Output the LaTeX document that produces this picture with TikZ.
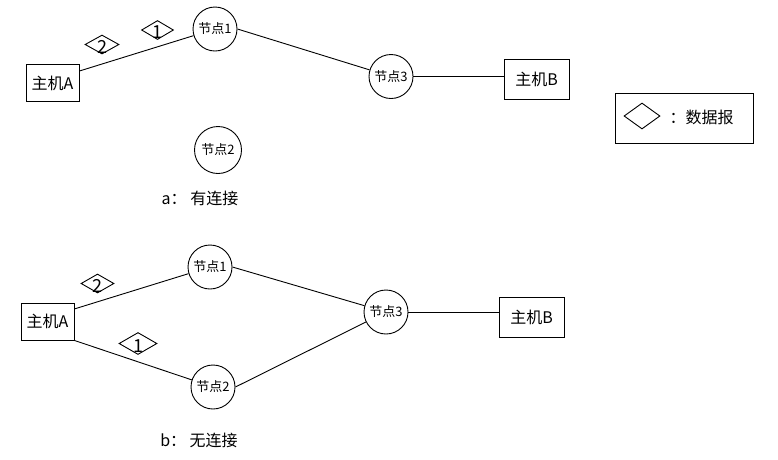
\documentclass[tikz,border=0pt]{standalone}
\usepackage{fontspec}
\setmainfont{Noto Sans CJK SC}
\usetikzlibrary{shapes.geometric,positioning,calc}

\begin{document}
\begin{tikzpicture}[x=1pt, y=-1pt, line width=0.9pt,
  host/.style={rectangle, draw, minimum width=53pt, minimum height=37pt, inner sep=0pt, font=\fontsize{16}{18}\selectfont},
  relay/.style={circle, draw, minimum size=44pt, inner sep=0pt, font=\fontsize{13}{15}\selectfont},
  pkt/.style={diamond, draw, minimum width=34pt, minimum height=19pt, inner sep=0pt},
  num/.style={font=\fontsize{18}{20}\selectfont, inner sep=0pt},
  captext/.style={font=\fontsize{16}{18}\selectfont, inner sep=0pt}]
  \useasboundingbox (0,0) rectangle (778,459);

  % a: with connection
  \node[host] (hA) at (52.5,83) {主机A};
  \node[relay] (n1) at (215,29) {节点1};
  \node[relay, minimum size=47pt] (n2) at (218,150) {节点2};
  \node[relay] (n3) at (391,76.5) {节点3};
  \node[host, minimum width=65pt, minimum height=40pt] (hB) at (536.5,79) {主机B};
  \node[pkt] (p2) at (102,44.5) {};
  \node[num] at ($(p2)+(0,2)$) {2};
  \node[pkt, minimum width=32pt] (p1) at (157.5,30) {};
  \node[num] at ($(p1)+(0,2.5)$) {1};
  \draw (hA.24) -- (n1);
  \draw (n1.east) -- (n3);
  \draw (n3) -- (n3 -| hB.west);
  \node[captext] (capA) at (200,198) {a：\ 有连接};

  % legend
  \node[draw, minimum width=138pt, minimum height=50pt, inner sep=0pt] (legend) at (684,118) {};
  \node[pkt, minimum width=36pt, minimum height=26pt] (lp) at (642,116) {};
  \node[captext, anchor=east] (ltext) at (734,117) {：数据报};

  % b: without connection
  \node[host] (hA2) at (47.5,321.5) {主机A};
  \node[relay] (m1) at (210,267) {节点1};
  \node[relay] (m2) at (213,387) {节点2};
  \node[relay] (m3) at (386,312) {节点3};
  \node[host, minimum width=65pt, minimum height=40pt] (hB2) at (531.5,317) {主机B};
  \node[pkt, minimum width=33pt] (q2) at (97.5,283.5) {};
  \node[num] at ($(q2)+(0,2)$) {2};
  \node[pkt, minimum width=38pt, minimum height=22pt] (q1) at (138,343.5) {};
  \node[num] at ($(q1)+(0,2.5)$) {1};
  \draw (hA2.25) -- (m1);
  \draw (hA2.south east) -- (m2);
  \draw (m1.east) -- (m3);
  \draw (m2.east) -- (m3);
  \draw (m3) -- (m3 -| hB2.west);
  \node[captext] (capB) at (199,440) {b：\ 无连接};
\end{tikzpicture}
\end{document}
